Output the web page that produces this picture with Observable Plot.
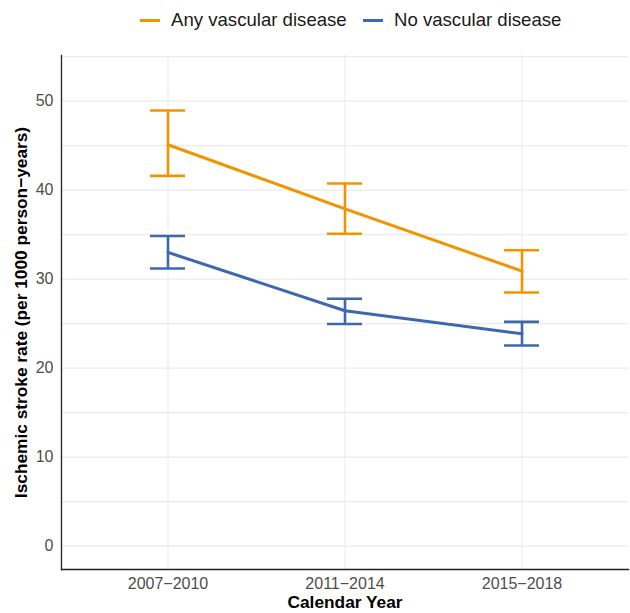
<!DOCTYPE html>
<html>
<head>
<meta charset="utf-8">
<script src="https://cdn.jsdelivr.net/npm/d3@7"></script>
<script src="https://cdn.jsdelivr.net/npm/@observablehq/plot@0.6"></script>
<style>
  html, body { margin: 0; padding: 0; background: #fff; }
  body { width: 630px; height: 613px; overflow: hidden; font-family: "Liberation Sans", Arial, sans-serif; }
  #legend { position: relative; height: 40px; }
  .item { position: absolute; top: 0; height: 40px; display: flex; align-items: center; font-size: 18.6px; color: #1a1a1a; }
  .sw { display: inline-block; width: 20px; height: 3px; margin-right: 11px; }
</style>
</head>
<body>
<div id="legend"></div>
<div id="chart"></div>
<script>
const periods = ["2007\u22122010", "2011\u22122014", "2015\u22122018"];
const groups = ["Any vascular disease", "No vascular disease"];
const colors = ["#F29400", "#3D68AE"];
const anyRate = [45.1, 37.9, 30.9];
const anyLow = [41.6, 35.1, 28.5];
const anyHigh = [48.95, 40.75, 33.25];
const noRate = [33.0, 26.45, 23.85];
const noLow = [31.2, 24.95, 22.55];
const noHigh = [34.85, 27.8, 25.2];
const gridValues = [0, 5, 10, 15, 20, 25, 30, 35, 40, 45, 50, 55];
const tickValues = [0, 10, 20, 30, 40, 50];
const yDomain = [-2.625, 55.125];
const xTitle = "Calendar Year";
const yTitle = "Ischemic stroke rate (per 1000 person\u2212years)";

const rows = [];
periods.forEach((p, i) => {
  rows.push({period: p, group: groups[0], rate: anyRate[i], lo: anyLow[i], hi: anyHigh[i]});
  rows.push({period: p, group: groups[1], rate: noRate[i], lo: noLow[i], hi: noHigh[i]});
});

// legend
const leg = document.getElementById("legend");
const legX = [140, 363];
groups.forEach((g, i) => {
  const it = document.createElement("div");
  it.className = "item";
  it.style.left = legX[i] + "px";
  const sw = document.createElement("span");
  sw.className = "sw";
  sw.style.background = colors[i];
  it.appendChild(sw);
  const t = document.createElement("span");
  t.textContent = g;
  it.appendChild(t);
  leg.appendChild(it);
});

const chart = Plot.plot({
  width: 630,
  height: 573,
  marginLeft: 61,
  marginRight: 2,
  marginTop: 15,
  marginBottom: 44,
  style: {fontFamily: "'Liberation Sans', Arial, sans-serif", background: "#fff"},
  x: {type: "band", domain: periods, paddingInner: 0.8, paddingOuter: 0.5, axis: null},
  y: {domain: yDomain, axis: null},
  color: {domain: groups, range: colors},
  marks: [
    Plot.gridY(gridValues, {stroke: "#ebebeb", strokeOpacity: 1, strokeWidth: 1.1}),
    Plot.gridX({stroke: "#ebebeb", strokeOpacity: 1, strokeWidth: 1.1}),
    Plot.axisY(tickValues, {tickSize: 0, tickPadding: 8, fontSize: 16, fill: "#4d4d4d", label: null}),
    Plot.axisX({tickSize: 0, tickPadding: 8, fontSize: 16, fill: "#4d4d4d", label: null}),
    Plot.frame({anchor: "left", stroke: "#222", strokeWidth: 1.3}),
    Plot.frame({anchor: "bottom", stroke: "#222", strokeWidth: 1.3}),
    Plot.line(rows, {x: "period", y: "rate", z: "group", stroke: "group", strokeWidth: 3}),
    Plot.ruleX(rows, {x: "period", y1: "lo", y2: "hi", stroke: "group", strokeWidth: 2.6}),
    Plot.tickY(rows, {x: "period", y: "hi", stroke: "group", strokeWidth: 2.6}),
    Plot.tickY(rows, {x: "period", y: "lo", stroke: "group", strokeWidth: 2.6}),
    Plot.text([xTitle], {frameAnchor: "bottom", dy: 33, text: d => d, fontSize: 17.3, fontWeight: "bold", fill: "#000", lineAnchor: "middle", textAnchor: "middle"}),
    Plot.text([yTitle], {frameAnchor: "left", dx: -40, rotate: -90, text: d => d, fontSize: 17.3, fontWeight: "bold", fill: "#000", lineAnchor: "middle", textAnchor: "middle"})
  ]
});
document.getElementById("chart").appendChild(chart);
</script>
</body>
</html>
